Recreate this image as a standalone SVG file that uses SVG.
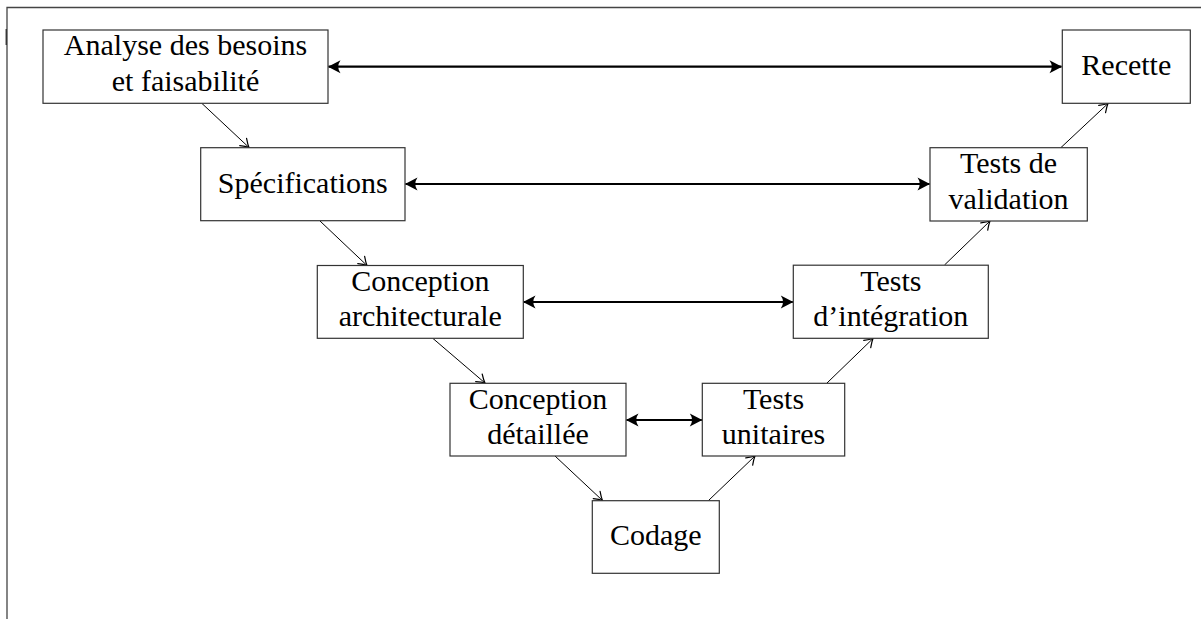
<svg xmlns="http://www.w3.org/2000/svg" width="1201" height="619" viewBox="0 0 1201 619">
  <style>
    .box { fill: #ffffff; stroke: #333333; stroke-width: 1.2; }
    .lbl { font-size: 30px; fill: #000000; text-anchor: middle; }
    .flow { stroke: #000000; stroke-width: 1; fill: none; marker-end: url(#tip); }
    .link { stroke: #000000; stroke-width: 2.2; fill: none; marker-start: url(#bigtip-start); marker-end: url(#bigtip); }
    .frame { stroke: #444444; stroke-width: 1.3; fill: none; }
  </style>
  <defs>
    <marker id="tip" markerUnits="userSpaceOnUse" markerWidth="16" markerHeight="16" viewBox="-12 -8 16 16" refX="0" refY="0" orient="auto">
      <path d="M-8,-5 Q-3,-1.3 0,0 Q-3,1.3 -8,5" fill="none" stroke="#000" stroke-width="1.2" stroke-linecap="round"/>
    </marker>
    <marker id="bigtip" markerUnits="userSpaceOnUse" markerWidth="18" markerHeight="18" viewBox="-15 -9 18 18" refX="0" refY="0" orient="auto">
      <path d="M0.5,0 L-12,-6.5 Q-7.5,0 -12,6.5 Z" fill="#000"/>
    </marker>
    <marker id="bigtip-start" markerUnits="userSpaceOnUse" markerWidth="18" markerHeight="18" viewBox="-3 -9 18 18" refX="0" refY="0" orient="auto">
      <path d="M-0.5,0 L12,-6.5 Q7.5,0 12,6.5 Z" fill="#000"/>
    </marker>
  </defs>

  <rect width="1201" height="619" fill="#ffffff"/>

  <!-- page frame -->
  <g id="frame">
    <path class="frame" d="M7,619 V7.5 H1201"/>
    <path d="M6.2,29 V45" stroke="#222" stroke-width="1.2"/>
  </g>

  <!-- connectors -->
  <g id="connectors">
    <!-- descending branch -->
    <line class="flow" x1="202" y1="103.5" x2="249" y2="147.5"/>
    <line class="flow" x1="320" y1="221" x2="367" y2="265.5"/>
    <line class="flow" x1="433" y1="338.5" x2="485" y2="383"/>
    <line class="flow" x1="555" y1="456" x2="602.5" y2="500.5"/>
    <!-- ascending branch -->
    <line class="flow" x1="708.5" y1="500.5" x2="755" y2="456"/>
    <line class="flow" x1="827" y1="383" x2="873" y2="338.5"/>
    <line class="flow" x1="944.5" y1="265" x2="990" y2="221"/>
    <line class="flow" x1="1061" y1="147.5" x2="1108" y2="103.5"/>
    <!-- verification links -->
    <line class="link" x1="328.5" y1="66.7" x2="1061.5" y2="66.7"/>
    <line class="link" x1="405.5" y1="184" x2="929.5" y2="184"/>
    <line class="link" x1="523.5" y1="302" x2="792.8" y2="302"/>
    <line class="link" x1="626.5" y1="420" x2="701.8" y2="420"/>
  </g>

  <g font-family="Liberation Serif, DejaVu Serif, serif">
  <g id="analyse">
    <rect class="box" x="43" y="30" width="285" height="73.3"/>
    <text class="lbl" x="185.5" y="55">Analyse des besoins</text>
    <text class="lbl" x="185.5" y="90.5">et faisabilité</text>
  </g>

  <g id="recette">
    <rect class="box" x="1062.3" y="30" width="128" height="73.3"/>
    <text class="lbl" x="1126.3" y="74.5">Recette</text>
  </g>

  <g id="specifications">
    <rect class="box" x="200.7" y="147.7" width="204.3" height="73"/>
    <text class="lbl" x="302.8" y="192.5">Spécifications</text>
  </g>

  <g id="tests-validation">
    <rect class="box" x="930" y="147.7" width="157.3" height="73.3"/>
    <text class="lbl" x="1008.6" y="173">Tests de</text>
    <text class="lbl" x="1008.6" y="208.5">validation</text>
  </g>

  <g id="conception-architecturale">
    <rect class="box" x="317.3" y="265.5" width="206" height="72.8"/>
    <text class="lbl" x="420.3" y="290.5">Conception</text>
    <text class="lbl" x="420.3" y="326">architecturale</text>
  </g>

  <g id="tests-integration">
    <rect class="box" x="793.3" y="265.2" width="195" height="73.1"/>
    <text class="lbl" x="890.8" y="290.5">Tests</text>
    <text class="lbl" x="890.8" y="326">d’intégration</text>
  </g>

  <g id="conception-detaillee">
    <rect class="box" x="450" y="383.3" width="176" height="72.7"/>
    <text class="lbl" x="538" y="408.5">Conception</text>
    <text class="lbl" x="538" y="444">détaillée</text>
  </g>

  <g id="tests-unitaires">
    <rect class="box" x="702.3" y="383.3" width="142.4" height="72.7"/>
    <text class="lbl" x="773.5" y="408.5">Tests</text>
    <text class="lbl" x="773.5" y="444">unitaires</text>
  </g>

  <g id="codage">
    <rect class="box" x="592.3" y="500.7" width="127" height="72.6"/>
    <text class="lbl" x="655.8" y="545">Codage</text>
  </g>
  </g>
</svg>
